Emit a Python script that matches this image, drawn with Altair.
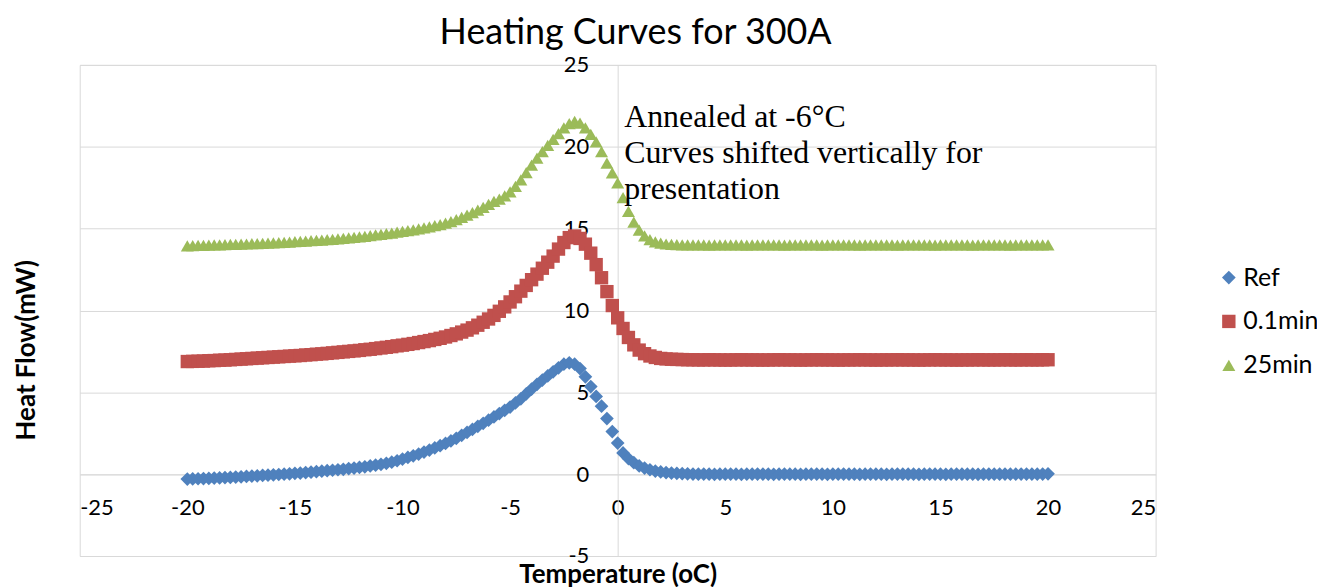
import altair as alt
import pandas as pd

# Temperature grid (°C), one reading every 0.25 °C from -20 to 20
temps = [round(-20 + 0.25 * i, 2) for i in range(161)]

# Heat flow (mW)
ref = [
    -0.30, -0.29, -0.28, -0.27, -0.26, -0.24, -0.23, -0.21, -0.20, -0.18,
    -0.16, -0.14, -0.12, -0.10, -0.08, -0.06, -0.04, -0.02, 0.00, 0.02,
    0.05, 0.07, 0.10, 0.12, 0.15, 0.18, 0.21, 0.24, 0.27, 0.30,
    0.34, 0.37, 0.41, 0.45, 0.50, 0.55, 0.60, 0.66, 0.73, 0.82,
    0.92, 1.02, 1.12, 1.23, 1.35, 1.47, 1.60, 1.74, 1.88, 2.03,
    2.19, 2.37, 2.55, 2.73, 2.92, 3.11, 3.30, 3.50, 3.70, 3.90,
    4.10, 4.35, 4.60, 4.90, 5.20, 5.48, 5.75, 6.00, 6.25, 6.50,
    6.72, 6.80, 6.72, 6.45, 5.95, 5.35, 4.75, 4.15, 3.40, 2.60,
    1.90, 1.30, 0.95, 0.70, 0.50, 0.37, 0.27, 0.19, 0.14, 0.10,
    0.07, 0.05, 0.03, 0.02, 0.01,
    0.00, 0.01, 0.00, -0.01, 0.00, 0.00, 0.01, 0.00, -0.01, 0.00,
    0.00, 0.01, 0.00, 0.00, -0.01, 0.00, 0.01, 0.00, 0.00, -0.01,
    0.00, 0.00, 0.01, 0.00, -0.01, 0.00, 0.00, 0.01, 0.00, 0.00,
    -0.01, 0.00, 0.01, 0.00, 0.00, -0.01, 0.00, 0.01, 0.00, 0.00,
    0.00, -0.01, 0.00, 0.01, 0.00, 0.00, -0.01, 0.00, 0.01, 0.00,
    0.00, 0.00, -0.01, 0.00, 0.01, 0.00, 0.00, 0.01, 0.00, 0.00,
    0.01, 0.01, 0.00, 0.00, 0.01, 0.02,
]

min01 = [
    6.88, 6.89, 6.90, 6.91, 6.93, 6.94, 6.96, 6.97, 6.99, 7.01,
    7.03, 7.05, 7.07, 7.09, 7.11, 7.13, 7.15, 7.17, 7.19, 7.21,
    7.23, 7.25, 7.28, 7.30, 7.33, 7.35, 7.38, 7.41, 7.44, 7.47,
    7.50, 7.53, 7.56, 7.60, 7.63, 7.67, 7.71, 7.75, 7.79, 7.84,
    7.88, 7.93, 7.98, 8.04, 8.10, 8.16, 8.23, 8.30, 8.38, 8.47,
    8.57, 8.68, 8.80, 8.94, 9.10, 9.28, 9.48, 9.70, 9.95, 10.22,
    10.52, 10.84, 11.18, 11.53, 11.88, 12.22, 12.58, 12.95, 13.32, 13.75,
    14.15, 14.45, 14.55, 14.40, 14.05, 13.50, 12.80, 12.00, 11.15, 10.30,
    9.55, 8.90, 8.35, 7.90, 7.58, 7.36, 7.22, 7.13, 7.07, 7.04,
    7.02, 7.01, 7.00, 6.99, 6.99,
    6.98, 6.98, 6.99, 6.98, 6.98, 6.97, 6.98, 6.98, 6.99, 6.98,
    6.98, 6.98, 6.97, 6.98, 6.98, 6.99, 6.98, 6.98, 6.98, 6.97,
    6.98, 6.98, 6.99, 6.98, 6.98, 6.98, 6.97, 6.98, 6.98, 6.98,
    6.99, 6.98, 6.98, 6.97, 6.98, 6.98, 6.98, 6.99, 6.98, 6.98,
    6.98, 6.97, 6.98, 6.98, 6.99, 6.98, 6.98, 6.98, 6.97, 6.98,
    6.98, 6.98, 6.99, 6.98, 6.98, 6.98, 6.98, 6.99, 6.98, 6.98,
    6.98, 6.99, 6.98, 6.98, 6.99, 6.99,
]

min25 = [
    13.95, 13.96, 13.97, 13.98, 13.99, 14.00, 14.01, 14.02, 14.03, 14.04,
    14.05, 14.06, 14.08, 14.09, 14.10, 14.12, 14.13, 14.15, 14.16, 14.18,
    14.20, 14.22, 14.24, 14.26, 14.28, 14.30, 14.33, 14.35, 14.38, 14.41,
    14.44, 14.47, 14.50, 14.53, 14.57, 14.61, 14.65, 14.69, 14.73, 14.78,
    14.83, 14.88, 14.93, 14.99, 15.05, 15.11, 15.18, 15.25, 15.33, 15.43,
    15.55, 15.68, 15.82, 15.97, 16.13, 16.30, 16.48, 16.67, 16.80, 17.00,
    17.25, 17.58, 17.98, 18.42, 18.88, 19.30, 19.70, 20.08, 20.45, 20.80,
    21.15, 21.42, 21.55, 21.45, 21.15, 20.75, 20.30, 19.70, 19.00, 18.40,
    17.80, 16.90, 16.05, 15.40, 14.90, 14.55, 14.32, 14.19, 14.11, 14.06,
    14.03, 14.02, 14.01, 14.00, 14.00,
    14.00, 14.00, 13.99, 14.00, 14.00, 14.00, 14.01, 14.00, 14.00, 13.99,
    14.00, 14.00, 14.00, 14.01, 14.00, 14.00, 13.99, 14.00, 14.00, 14.00,
    14.01, 14.00, 14.00, 13.99, 14.00, 14.00, 14.00, 14.01, 14.00, 14.00,
    13.99, 14.00, 14.00, 14.00, 14.01, 14.00, 14.00, 13.99, 14.00, 14.00,
    14.00, 14.01, 14.00, 14.00, 13.99, 14.00, 14.00, 14.00, 14.01, 14.00,
    14.00, 13.99, 14.00, 14.00, 14.00, 14.01, 14.00, 14.00, 13.99, 14.00,
    14.00, 14.00, 14.01, 14.00, 14.00, 14.00,
]

series_names = ["Ref", "0.1min", "25min"]
series_colors = ["#4F81BD", "#C0504D", "#9BBB59"]
series_shapes = ["diamond", "square", "triangle-up"]
series_sizes = [190, 170, 150]

x_ticks = [-25, -20, -15, -10, -5, 0, 5, 10, 15, 20, 25]
y_ticks = [-5, 0, 5, 10, 15, 20, 25]

note_lines = ["Annealed at -6°C", "Curves shifted vertically for", "presentation"]

df = pd.DataFrame({
    "Temperature": temps * 3,
    "HeatFlow": ref + min01 + min25,
    "Series": [series_names[0]] * len(ref)
    + [series_names[1]] * len(min01)
    + [series_names[2]] * len(min25),
})

W, H = 1080, 493
GRID = "#D9D9D9"
PLAIN = "datum.value + ''"   # hyphen-minus labels like the reference

legend = alt.Legend(
    title=None, orient="none", legendX=1141, legendY=201, padding=0,
    labelFont="Lato", labelFontSize=25, labelColor="black", labelOffset=2,
    symbolSize=64, symbolStrokeWidth=0, rowPadding=18,
)

x_enc = alt.X(
    "Temperature:Q",
    scale=alt.Scale(domain=[-25, 25], nice=False, zero=False),
    axis=alt.Axis(
        values=x_ticks, labelExpr=PLAIN, offset=-82, grid=False, ticks=False,
        tickSize=0, domainColor=GRID, labelPadding=23, labelFontSize=22,
        title="Temperature (oC)", titleFontSize=26, titleFontWeight="bold",
        titleX=540, titleY=101, titleAlign="center", titleBaseline="middle",
    ),
)
y_enc = alt.Y(
    "HeatFlow:Q",
    scale=alt.Scale(domain=[-5, 25], nice=False, zero=False),
    axis=alt.Axis(
        values=y_ticks, labelExpr=PLAIN, offset=-540, grid=True, gridColor=GRID,
        ticks=False, tickSize=0, domainColor=GRID, labelPadding=29,
        labelFontSize=22,
        title="Heat Flow(mW)", titleFontSize=26, titleFontWeight="bold",
        titleX=-593, titleY=286, titleAngle=270, titleAlign="center",
        titleBaseline="middle",
    ),
)

points = alt.Chart(df).mark_point(filled=True, opacity=1).encode(
    x=x_enc,
    y=y_enc,
    color=alt.Color("Series:N", scale=alt.Scale(domain=series_names, range=series_colors),
                    legend=legend),
    shape=alt.Shape("Series:N", scale=alt.Scale(domain=series_names, range=series_shapes),
                    legend=legend),
    size=alt.Size("Series:N", scale=alt.Scale(domain=series_names, range=series_sizes),
                  legend=None),
    order=alt.Order("order:Q"),
).transform_calculate(order="indexof(['Ref','0.1min','25min'], datum.Series)")

note = alt.Chart(pd.DataFrame({"a": [0]})).mark_text(
    text=note_lines, align="left", baseline="alphabetic", font="Liberation Serif",
    fontSize=32, lineHeight=36, color="black",
).encode(x=alt.datum(0.3), y=alt.datum(21.2))

chart = alt.layer(points, note).properties(
    width=W, height=H,
    title=alt.TitleParams(
        "Heating Curves for 300A", font="Lato", fontSize=36, fontWeight="normal",
        color="black", anchor="middle", dx=18, offset=2,
    ),
    autosize=alt.AutoSizeParams(type="none"),
    padding={"left": 72, "top": 56, "right": 162, "bottom": 38},
).configure_view(
    stroke=GRID, strokeWidth=1,
).configure_axis(
    labelFont="Lato", titleFont="Lato", labelColor="black", titleColor="black",
)

chart.save("out.html", embed_options={"renderer": "svg", "actions": False})
